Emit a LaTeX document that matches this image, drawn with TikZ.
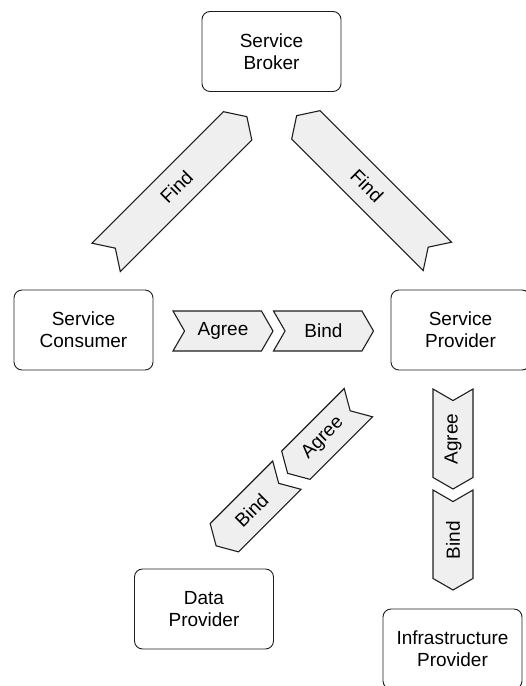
\documentclass[tikz,border=0pt]{standalone}
\usepackage{fontspec}
\setmainfont{Liberation Sans}
\usetikzlibrary{shapes.symbols}
\definecolor{chevfill}{RGB}{239,239,239}
\definecolor{edge}{RGB}{30,30,30}
\tikzset{
  entity/.style={draw=edge, line width=0.9pt, rounded corners=8pt,
    minimum width=139pt, minimum height=80pt, align=center,
    font=\fontsize{19}{22}\selectfont},
  flow/.style={signal, draw=edge, fill=chevfill, line width=1.1pt,
    minimum height=40pt, minimum width=100pt, inner sep=0pt,
    signal pointer angle=120, font=\fontsize{19}{22}\selectfont},
  longflow/.style={flow, minimum width=199pt, signal pointer angle=114},
  toE/.style={signal to=east, signal from=west},
  toW/.style={signal to=west, signal from=east},
}
\begin{document}
\begin{tikzpicture}[x=1pt,y=-1pt]
  \useasboundingbox (0,0) rectangle (526,686);

  % participants
  \node[entity] (broker)   at (271.5,51.5) {Service\\Broker};
  \node[entity] (consumer) at (83.5,330)   {Service\\Consumer};
  \node[entity] (provider) at (460.5,330)  {Service\\Provider};
  \node[entity] (data)     at (204,609)    {Data\\Provider};
  \node[entity] (infra)    at (452.5,649)  {Infrastructure\\Provider};

  % lookups at the broker
  \node[longflow, toE, rotate=45]  (findC) at (176.5,187) {Find};
  \node[longflow, toW, rotate=-45] (findP) at (367,186)   {Find};

  % consumer to provider
  \node[flow, toE] (agreeCP) at (223,331)   {Agree};
  \node[flow, toE] (bindCP)  at (323.5,331) {Bind};

  % provider to data provider
  \node[flow, toW, rotate=45] (agreeD) at (323,438)     {Agree};
  \node[flow, toW, rotate=45] (bindD)  at (251.5,510.5) {Bind};

  % provider to infrastructure provider
  \node[flow, toW, rotate=90] (agreeI) at (453,439) {Agree};
  \node[flow, toW, rotate=90] (bindI)  at (453,540) {Bind};
\end{tikzpicture}
\end{document}
